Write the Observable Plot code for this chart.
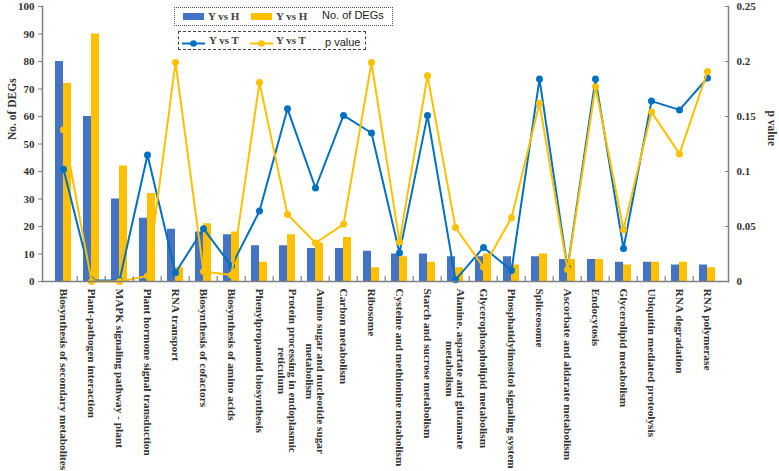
<!DOCTYPE html>
<html><head><meta charset="utf-8">
<script src="https://cdn.jsdelivr.net/npm/d3@7"></script>
<script src="https://cdn.jsdelivr.net/npm/@observablehq/plot@0.6"></script>
<style>
body{margin:0;background:#fff;}
#chart{position:relative;width:779px;height:471px;overflow:hidden;}
#chart svg text{font-family:"Liberation Serif","Times New Roman",serif !important;font-weight:bold;}
.box{position:absolute;box-sizing:border-box;}
.lt{position:absolute;white-space:nowrap;line-height:1;}
.serif{font-family:"Liberation Serif","Times New Roman",serif;font-weight:bold;font-size:11px;color:#404040;}
.sans{font-family:"Liberation Sans",Arial,sans-serif;font-size:11px;color:#222;}
</style></head><body><div id="chart"></div>
<script>
const categories = [
  "Biosynthesis of secondary metabolites",
  "Plant-pathogen interaction",
  "MAPK signaling pathway - plant",
  "Plant hormone signal transduction",
  "RNA transport",
  "Biosynthesis of cofactors",
  "Biosynthesis of amino acids",
  "Phenylpropanoid biosynthesis",
  "Protein processing in endoplasmic reticulum",
  "Amino sugar and nucleotide sugar metabolism",
  "Carbon metabolism",
  "Ribosome",
  "Cysteine and methionine metabolism",
  "Starch and sucrose metabolism",
  "Alanine, aspartate and glutamate metabolism",
  "Glycerophospholipid metabolism",
  "Phosphatidylinositol signaling system",
  "Spliceosome",
  "Ascorbate and aldarate metabolism",
  "Endocytosis",
  "Glycerolipid metabolism",
  "Ubiquitin mediated proteolysis",
  "RNA degradation",
  "RNA polymerase"
];
const wrappedLabels = {
  "Protein processing in endoplasmic reticulum": ["Protein processing in endoplasmic", "reticulum"],
  "Amino sugar and nucleotide sugar metabolism": ["Amino sugar and nucleotide sugar", "metabolism"],
  "Alanine, aspartate and glutamate metabolism": ["Alanine, aspartate and glutamate", "metabolism"]
};
// No. of DEGs (bars)
const degsBlue   = [80, 60, 30, 23, 19, 18, 17, 13, 13, 12, 12, 11, 10, 10, 9, 9, 9, 9, 8, 8, 7, 7, 6, 6];
const degsYellow = [72, 90, 42, 32, 5, 21, 18, 7, 17, 14, 16, 5, 9, 7, 5, 10, 6, 10, 8, 8, 6, 7, 7, 5];
// p value (lines)
const pBlue   = [0.102, 0.001, 0.001, 0.115, 0.008, 0.048, 0.014, 0.064, 0.157, 0.085, 0.151, 0.135, 0.026, 0.151, 0.0015, 0.031, 0.010, 0.184, 0.012, 0.184, 0.030, 0.164, 0.156, 0.185];
const pYellow = [0.138, 0.000, 0.000, 0.005, 0.199, 0.009, 0.006, 0.181, 0.061, 0.035, 0.052, 0.199, 0.036, 0.187, 0.049, 0.013, 0.058, 0.162, 0.011, 0.177, 0.047, 0.154, 0.116, 0.191];
const leftTicks  = [0, 10, 20, 30, 40, 50, 60, 70, 80, 90, 100];
const rightTicks = [0, 0.05, 0.1, 0.15, 0.2, 0.25];
const barLegend  = ["Y vs H", "Y vs H", "No. of DEGs"];
const lineLegend = ["Y vs T", "Y vs T", "p value"];

const C = {blueBar: "#4472C4", yellowBar: "#FFC000", blueLine: "#0070C0", yellowLine: "#FFC000", axis: "#7f7f7f", text: "#333"};
const W = 779, H = 471, ml = 42, mr = 51, mt = 6, mb = 190;
const pMax = 0.25, yMax = 100;
const toLeft = p => p * yMax / pMax;
const step = (W - ml - mr) / categories.length;
const padInner = 0.44;
const bw = step * (1 - padInner);
const serif = "Liberation Serif";
const fs = 11.3;

const rows = categories.map((c, i) => ({c, i, b: degsBlue[i], y: degsYellow[i], pb: pBlue[i], py: pYellow[i]}));

const ctx = document.createElement("canvas").getContext("2d");
ctx.font = `bold ${fs}px "Liberation Serif"`;

const tOpt = {fontFamily: serif, fontWeight: "bold", fill: C.text};
const labelMarks = [];
const singles = rows.filter(r => !wrappedLabels[r.c]);
labelMarks.push(Plot.text(singles, {...tOpt, x: "c", text: "c", frameAnchor: "bottom", rotate: 90, textAnchor: "start", lineAnchor: "middle", dy: 7, fontSize: fs}));
rows.filter(r => wrappedLabels[r.c]).forEach(r => {
  const [l1, l2] = wrappedLabels[r.c];
  const w1 = ctx.measureText(l1).width;
  labelMarks.push(Plot.text([r], {...tOpt, x: "c", text: () => l1, frameAnchor: "bottom", rotate: 90, textAnchor: "start", lineAnchor: "middle", dy: 7, dx: 5.5, fontSize: fs}));
  labelMarks.push(Plot.text([r], {...tOpt, x: "c", text: () => l2, frameAnchor: "bottom", rotate: 90, textAnchor: "middle", lineAnchor: "middle", dy: 7 + w1 / 2, dx: -5.5, fontSize: fs}));
});

const plot = Plot.plot({
  width: W, height: H,
  marginLeft: ml, marginRight: mr, marginTop: mt, marginBottom: mb,
  style: {fontFamily: serif, fontWeight: "bold", fontSize: fs + "px", background: "white", color: C.text},
  x: {domain: categories, type: "band", paddingInner: padInner, paddingOuter: padInner / 2, axis: null},
  y: {domain: [0, yMax], axis: null},
  marks: [
    Plot.barY(rows, {x: "c", y: "b", fill: C.blueBar, insetRight: bw / 2}),
    Plot.barY(rows, {x: "c", y: "y", fill: C.yellowBar, insetLeft: bw / 2}),
    Plot.line(rows, {x: "c", y: d => toLeft(d.pb), stroke: C.blueLine, strokeWidth: 2}),
    Plot.dot(rows, {x: "c", y: d => toLeft(d.pb), fill: C.blueLine, r: 3.5}),
    Plot.line(rows, {x: "c", y: d => toLeft(d.py), stroke: C.yellowLine, strokeWidth: 2}),
    Plot.dot(rows, {x: "c", y: d => toLeft(d.py), fill: C.yellowLine, r: 3.5}),
    Plot.frame({anchor: "left", stroke: C.axis, strokeWidth: 1.5}),
    Plot.frame({anchor: "right", stroke: C.axis, strokeWidth: 1.5}),
    Plot.frame({anchor: "bottom", stroke: C.axis, strokeWidth: 1.5}),
    Plot.ruleX(categories.slice(1), {x: d => d, dx: -step / 2, insetTop: H - mt - mb - 5, stroke: C.axis, strokeWidth: 1.2}),
    Plot.axisY(leftTicks, {...tOpt, anchor: "left", tickSize: 4, tickPadding: 4, stroke: C.axis, label: null, fontSize: 11}),
    Plot.axisY(rightTicks.map(toLeft), {...tOpt, anchor: "right", tickSize: -4, tickPadding: 12, stroke: C.axis, label: null, fontSize: 11,
      tickFormat: d => String(+(d * pMax / yMax).toFixed(3))}),
    Plot.text(["No. of DEGs"], {...tOpt, text: d => d, frameAnchor: "left", rotate: -90, dx: -30, dy: -4, fontSize: 11.5}),
    Plot.text(["p value"], {...tOpt, text: d => d, frameAnchor: "right", rotate: 90, dx: 43, dy: 2, fontSize: 11.5}),
    ...labelMarks
  ]
});
const chart = document.getElementById("chart");
chart.appendChild(plot);

// legends (inside plot area)
function add(html, cls, style) {
  const el = document.createElement("div");
  el.className = cls; el.style.cssText = style; el.innerHTML = html; chart.appendChild(el); return el;
}
add("", "box", "left:174px;top:7px;width:219px;height:19px;border:1.2px dotted #555;");
add("", "box", `left:183px;top:13px;width:21px;height:7px;background:${C.blueBar};`);
add(barLegend[0], "lt serif", "left:208px;top:11px;");
add("", "box", `left:251px;top:13px;width:21px;height:7px;background:${C.yellowBar};`);
add(barLegend[1], "lt serif", "left:276px;top:11px;");
add(barLegend[2], "lt sans", "left:322px;top:10px;");

add("", "box", "left:178px;top:31px;width:188px;height:19px;border:1.2px dashed #444;");
const sw = c => `<svg width="23" height="9"><line x1="0" y1="4.5" x2="23" y2="4.5" stroke="${c}" stroke-width="2"/><circle cx="11.5" cy="4.5" r="3.3" fill="${c}"/></svg>`;
add(sw(C.blueLine), "lt", "left:182px;top:35px;");
add(lineLegend[0], "lt serif", "left:209px;top:35px;");
add(sw(C.yellowLine), "lt", "left:250px;top:35px;");
add(lineLegend[1], "lt serif", "left:276px;top:35px;");
add(lineLegend[2], "lt sans", "left:325px;top:37px;");
</script></body></html>
